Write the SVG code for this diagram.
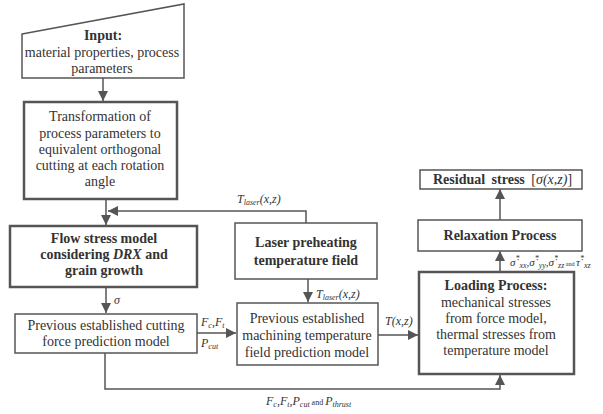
<svg xmlns="http://www.w3.org/2000/svg" width="603" height="414" viewBox="0 0 603 414" font-family="'Liberation Serif', 'DejaVu Serif', serif">
<defs>
<marker id="ah" viewBox="0 0 10 10" refX="10" refY="5" markerWidth="10" markerHeight="10" markerUnits="userSpaceOnUse" orient="auto">
<path d="M0,0 L10,5 L0,10 z" fill="#555"/>
</marker>
<style>
text{font-family:'Liberation Serif','DejaVu Serif',serif;fill:#333;font-size:14px}
.c{text-anchor:middle}
.b{font-weight:bold}
.i{font-style:italic}
.box{fill:#fff;stroke:#555;stroke-width:1.5}
.tbox{fill:#fff;stroke:#555;stroke-width:2.5}
.ln{fill:none;stroke:#555;stroke-width:1.5}
.lbl{font-size:12px;font-style:italic}
.sm{font-size:8px}
</style>
</defs>
<rect width="603" height="414" fill="#fff"/>
<g id="connectors">
<path class="ln" d="M103,78 V101" marker-end="url(#ah)"/>
<path class="ln" d="M106,199 V225" marker-end="url(#ah)"/>
<path class="ln" d="M306,223 V211 H108" marker-end="url(#ah)"/>
<path class="ln" d="M106,287 V313" marker-end="url(#ah)"/>
<path class="ln" d="M308,279 V302" marker-end="url(#ah)"/>
<path class="ln" d="M197,333 H236" marker-end="url(#ah)"/>
<path class="ln" d="M378,335 H418" marker-end="url(#ah)"/>
<path class="ln" d="M105,353 V389 H500 V375" marker-end="url(#ah)"/>
<path class="ln" d="M500,272 V251" marker-end="url(#ah)"/>
<path class="ln" d="M500,220 V189" marker-end="url(#ah)"/>
<text class="lbl" x="237" y="203">T<tspan class="sm" dy="2">laser</tspan><tspan dy="-2">(x,z)</tspan></text>
<text class="lbl" x="316" y="298">T<tspan class="sm" dy="2">laser</tspan><tspan dy="-2">(x,z)</tspan></text>
<text class="lbl" x="114" y="304">σ</text>
<text class="lbl" x="201" y="326">F<tspan class="sm" dy="2">c</tspan><tspan dy="-2">,F</tspan><tspan class="sm" dy="2">t</tspan></text>
<text class="lbl" x="201" y="347">P<tspan class="sm" dy="2">cut</tspan></text>
<text class="lbl" x="385" y="325">T(x,z)</text>
<text class="lbl" x="266" y="405">F<tspan class="sm" dy="2">c</tspan><tspan dy="-2">,F</tspan><tspan class="sm" dy="2">t</tspan><tspan dy="-2">,P</tspan><tspan class="sm" dy="2">cut</tspan><tspan dy="-2" style="font-size:8px;font-style:normal"> and </tspan><tspan>P</tspan><tspan class="sm" dy="2">thrust</tspan></text>
<text class="lbl" x="510" y="266" style="font-size:11px">σ̇<tspan class="sm" dy="-5">*</tspan><tspan class="sm" dy="7">xx</tspan><tspan dy="-2">,σ̇</tspan><tspan class="sm" dy="-5">*</tspan><tspan class="sm" dy="7">yy</tspan><tspan dy="-2">,σ̇</tspan><tspan class="sm" dy="-5">*</tspan><tspan class="sm" dy="7">zz</tspan><tspan dy="-2" style="font-size:6px;font-style:normal"> and </tspan><tspan>τ̇</tspan><tspan class="sm" dy="-5">*</tspan><tspan class="sm" dy="7">xz</tspan></text>
</g>
<g id="input">
<path class="box" d="M22,34 L184,4 L184,78 L22,78 Z"/>
<text class="c b" x="103" y="40">Input:</text>
<text class="c" x="102" y="57">material properties, process</text>
<text class="c" x="102" y="73">parameters</text>
</g>
<g id="transform">
<rect class="tbox" x="24" y="102" width="153" height="97"/>
<text class="c" x="100" y="121">Transformation of</text>
<text class="c" x="100" y="138">process parameters to</text>
<text class="c" x="100" y="154">equivalent orthogonal</text>
<text class="c" x="100" y="170">cutting at each rotation</text>
<text class="c" x="100" y="186">angle</text>
</g>
<g id="flowstress">
<rect class="tbox" x="10" y="226" width="187" height="61"/>
<text class="c b" x="104" y="243">Flow stress model</text>
<text class="c b" x="104" y="259">considering <tspan class="i">DRX</tspan> and</text>
<text class="c b" x="104" y="275">grain growth</text>
</g>
<g id="laser">
<rect class="box" x="235" y="223" width="142" height="56"/>
<text class="c b" x="306" y="247">Laser preheating</text>
<text class="c b" x="306" y="265">temperature field</text>
</g>
<g id="cutting">
<rect class="box" x="15" y="314" width="182" height="39"/>
<text class="c" x="106" y="330">Previous established cutting</text>
<text class="c" x="106" y="346">force prediction model</text>
</g>
<g id="machining">
<rect class="box" x="237" y="303" width="141" height="62"/>
<text class="c" x="307" y="323">Previous established</text>
<text class="c" x="307" y="340">machining temperature</text>
<text class="c" x="307" y="357">field prediction model</text>
</g>
<g id="loading">
<rect class="tbox" x="419" y="272" width="155" height="102"/>
<text class="c b" x="496" y="290">Loading Process:</text>
<text class="c" x="496" y="307">mechanical stresses</text>
<text class="c" x="496" y="323">from force model,</text>
<text class="c" x="496" y="339">thermal stresses from</text>
<text class="c" x="496" y="355">temperature model</text>
</g>
<g id="relaxation">
<rect class="box" x="418" y="220" width="164" height="31"/>
<text class="c b" x="500" y="240">Relaxation Process</text>
</g>
<g id="residual">
<rect class="box" x="420" y="170" width="162" height="19"/>
<text x="433" y="184" style="word-spacing:3px"><tspan class="b">Residual stress</tspan> [<tspan class="i">σ(x,z)</tspan>]</text>
</g>
</svg>
